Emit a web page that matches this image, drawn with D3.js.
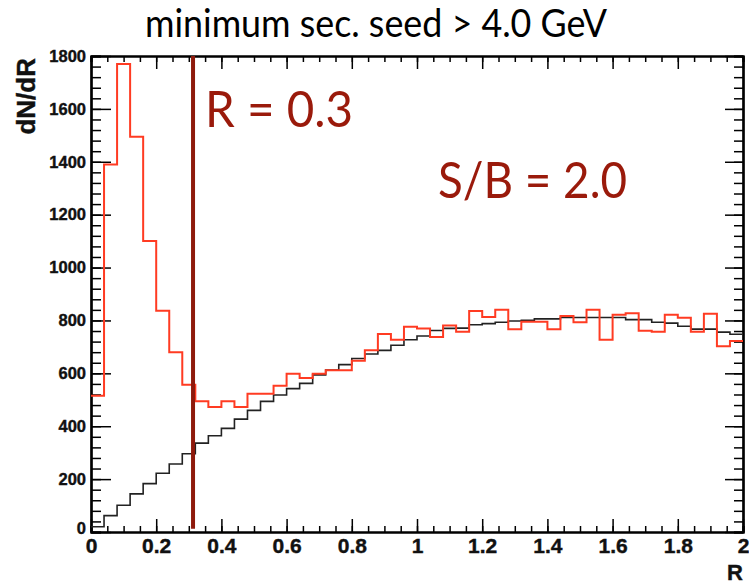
<!DOCTYPE html>
<html>
<head>
<meta charset="utf-8">
<script src="https://cdn.jsdelivr.net/npm/d3@7"></script>
<style>
  body { margin: 0; background: #fff; }
</style>
</head>
<body>
<script>
// histogramas: 50 bins de 0.04 en R
var binEdges = [0, 2];
var nBins = 50;
var signalPlusBkg = [515, 1390, 1770, 1495, 1100, 837, 680, 557, 494, 473,
                     494, 473, 523, 523, 553, 598, 582, 598, 612, 612,
                     648, 687, 749, 727, 776, 770, 737, 781, 757, 836,
                     813, 840, 767, 795, 795, 767, 817, 793, 840, 727,
                     822, 827, 761, 757, 822, 810, 757, 825, 702, 722];
var background = [20, 62, 101, 144, 183, 222, 257, 296, 336, 364,
                  392, 427, 460, 494, 518, 542, 562, 594, 612, 633,
                  656, 673, 687, 706, 727, 741, 762, 770, 771, 784,
                  788, 793, 798, 801, 806, 806, 811, 811, 811, 811,
                  811, 803, 803, 793, 790, 778, 767, 767, 756, 748];
var xTicks = [0, 0.2, 0.4, 0.6, 0.8, 1, 1.2, 1.4, 1.6, 1.8, 2];
var yTicks = [0, 200, 400, 600, 800, 1000, 1200, 1400, 1600, 1800];
var cutR = 0.313;
var titulo = "minimum sec. seed > 4.0 GeV";
var etiquetas = ["R = 0.3", "S/B = 2.0"];

var width = 749;
var height = 585;

var margen = { arriba: 56, abajo: 53, izquierda: 91, derecha: 6 };

var escalaX = d3.scaleLinear()
    .domain([0, 2])
    .range([margen.izquierda, width - margen.derecha]);

var escalaY = d3.scaleLinear()
    .domain([0, 1800])
    .range([height - margen.abajo, margen.arriba]);

var svg = d3.select("body").append("svg")
    .attr("width", width)
    .attr("height", height);

// ticks menores
var xMinor = d3.range(0, 2.0001, 0.05);
var yMinor = d3.range(0, 1800.1, 40);

function estiloEje(g) {
    g.select(".domain").attr("stroke-width", 2.2);
    g.selectAll(".tick line").attr("stroke-width", 1.5);
}

function estiloTexto(sel, size) {
    sel.style("font-family", "'Liberation Sans', Arial, sans-serif")
        .style("font-weight", "bold")
        .style("font-size", size + "px")
        .attr("fill", "#111")
        .attr("stroke", "#111")
        .attr("stroke-width", 0.4);
}

// eje X abajo
svg.append("g")
    .attr("transform", "translate(0," + escalaY(0) + ")")
    .call(d3.axisBottom(escalaX).tickValues(xMinor).tickSize(-6).tickFormat(""))
    .call(estiloEje);
var gX = svg.append("g")
    .attr("transform", "translate(0," + escalaY(0) + ")")
    .call(d3.axisBottom(escalaX).tickValues(xTicks).tickSize(-13).tickSizeOuter(0).tickPadding(6).tickFormat(d3.format("")))
    .call(estiloEje);
gX.selectAll("text").call(estiloTexto, 21);

// eje X arriba
svg.append("g")
    .attr("transform", "translate(0," + escalaY(1800) + ")")
    .call(d3.axisTop(escalaX).tickValues(xMinor).tickSize(-6).tickFormat(""))
    .call(estiloEje);
svg.append("g")
    .attr("transform", "translate(0," + escalaY(1800) + ")")
    .call(d3.axisTop(escalaX).tickValues(xTicks).tickSize(-13).tickSizeOuter(0).tickFormat(""))
    .call(estiloEje);

// eje Y izquierda
svg.append("g")
    .attr("transform", "translate(" + escalaX(0) + ",0)")
    .call(d3.axisLeft(escalaY).tickValues(yMinor).tickSize(-10).tickFormat(""))
    .call(estiloEje);
var gY = svg.append("g")
    .attr("transform", "translate(" + escalaX(0) + ",0)")
    .call(d3.axisLeft(escalaY).tickValues(yTicks).tickSize(-20).tickSizeOuter(0).tickPadding(5).tickFormat(d3.format("d")))
    .call(estiloEje);
gY.selectAll("text").call(estiloTexto, 16.5);
gY.selectAll(".tick").filter(function (d) { return d === 0; }).select("text")
    .attr("dy", "0.1em");

// eje Y derecha
svg.append("g")
    .attr("transform", "translate(" + escalaX(2) + ",0)")
    .call(d3.axisRight(escalaY).tickValues(yMinor).tickSize(-9).tickFormat(""))
    .call(estiloEje);
svg.append("g")
    .attr("transform", "translate(" + escalaX(2) + ",0)")
    .call(d3.axisRight(escalaY).tickValues(yTicks).tickSize(-18).tickSizeOuter(0).tickFormat(""))
    .call(estiloEje);

// histogramas en escalones
var anchoBin = (binEdges[1] - binEdges[0]) / nBins;
function puntosHisto(valores) {
    var pts = [];
    valores.forEach(function (v, i) {
        pts.push([i * anchoBin, v]);
        pts.push([(i + 1) * anchoBin, v]);
    });
    return pts;
}
var linea = d3.line()
    .x(function (d) { return escalaX(d[0]); })
    .y(function (d) { return escalaY(d[1]); });

svg.append("path")
    .datum(puntosHisto(background))
    .attr("d", linea)
    .attr("fill", "none")
    .attr("stroke", "#222")
    .attr("stroke-width", 1.6);

svg.append("path")
    .datum(puntosHisto(signalPlusBkg))
    .attr("d", linea)
    .attr("fill", "none")
    .attr("stroke", "#ff3b22")
    .attr("stroke-width", 2);

// linea de corte
svg.append("line")
    .attr("x1", escalaX(cutR)).attr("x2", escalaX(cutR))
    .attr("y1", escalaY(1800)).attr("y2", escalaY(12))
    .attr("stroke", "#8e1a0c")
    .attr("stroke-width", 4);

// titulos de ejes
svg.append("text")
    .attr("transform", "translate(35,58) rotate(-90)")
    .attr("text-anchor", "end")
    .call(estiloTexto, 26)
    .text("dN/dR");

svg.append("text")
    .attr("x", escalaX(2))
    .attr("y", 580)
    .attr("text-anchor", "end")
    .call(estiloTexto, 22)
    .text("R");

// titulo
svg.append("text")
    .attr("x", 145)
    .attr("y", 37)
    .attr("textLength", 462)
    .attr("lengthAdjust", "spacingAndGlyphs")
    .style("font-family", "Lato, sans-serif")
    .style("font-size", "39px")
    .text(titulo);

// anotaciones
svg.append("text")
    .attr("x", 205).attr("y", 127)
    .attr("textLength", 148)
    .attr("lengthAdjust", "spacingAndGlyphs")
    .attr("fill", "#9a1a0b")
    .style("font-family", "Lato, sans-serif")
    .style("font-size", "51px")
    .text(etiquetas[0]);

svg.append("text")
    .attr("x", 438).attr("y", 198)
    .attr("textLength", 189)
    .attr("lengthAdjust", "spacingAndGlyphs")
    .attr("fill", "#9a1a0b")
    .style("font-family", "Lato, sans-serif")
    .style("font-size", "51px")
    .text(etiquetas[1]);
</script>
</body>
</html>
